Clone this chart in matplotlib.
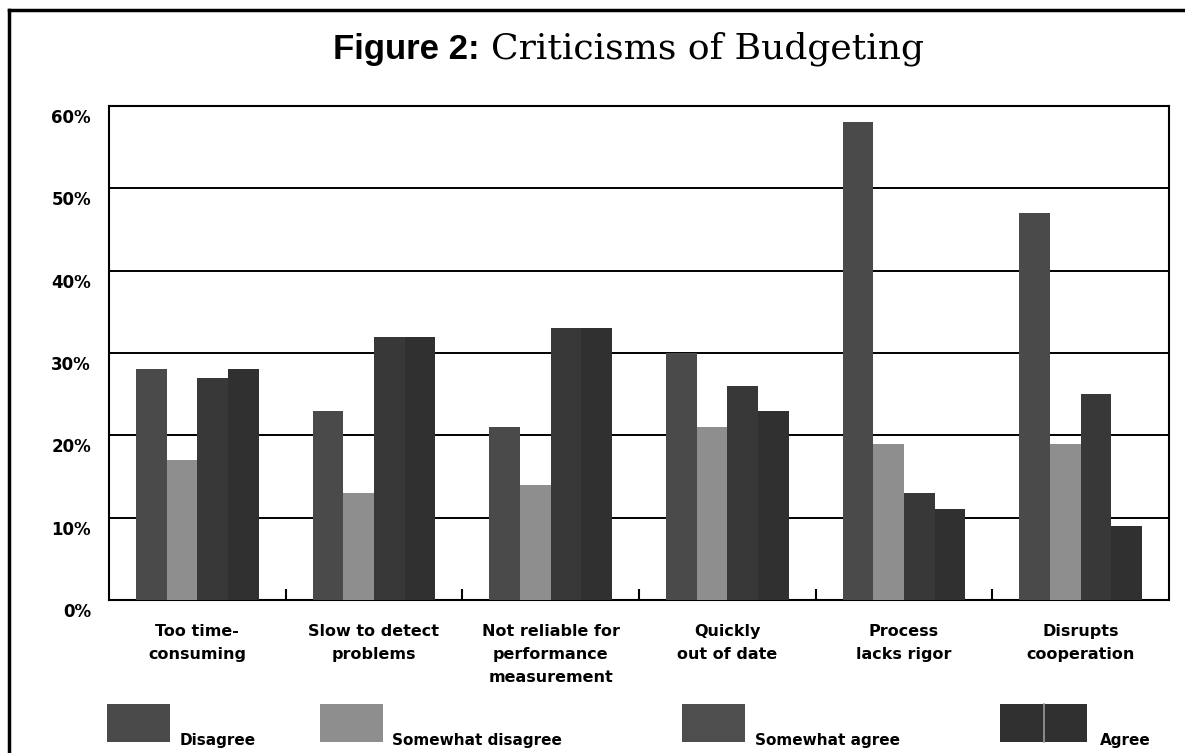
import numpy as np
import matplotlib
matplotlib.use("Agg")
import matplotlib.pyplot as plt
from matplotlib.patches import Rectangle
from matplotlib.lines import Line2D
from matplotlib.transforms import ScaledTranslation

# Survey responses (% of respondents) per criticism
categories = ["Too time-\nconsuming", "Slow to detect\nproblems",
              "Not reliable for\nperformance\nmeasurement", "Quickly\nout of date",
              "Process\nlacks rigor", "Disrupts\ncooperation"]
responses = ["Disagree", "Somewhat disagree", "Somewhat agree", "Agree"]
disagree = [28, 23, 21, 30, 58, 47]
somewhat_disagree = [17, 13, 14, 21, 19, 19]
somewhat_agree = [27, 32, 33, 26, 13, 25]
agree = [28, 32, 33, 23, 11, 9]
y_ticks = [0, 10, 20, 30, 40, 50, 60]
y_tick_labels = ["0%", "10%", "20%", "30%", "40%", "50%", "60%"]

series = [disagree, somewhat_disagree, somewhat_agree, agree]
colors = ["#4a4a4a", "#8e8e8e", "#383838", "#303030"]

W, H = 1185, 753
fig = plt.figure(figsize=(W / 100, H / 100), dpi=100)
fig.patch.set_facecolor("white")


def fx(px):
    return px / W


def fy(py):
    return 1 - py / H


SANS = ["DejaVu Sans"]
TITLE_SANS = ["Liberation Sans", "DejaVu Sans"]

# Plot area
ax_l, ax_r, ax_t, ax_b = 109, 1169, 106, 600
ax = fig.add_axes([fx(ax_l), fy(ax_b), fx(ax_r - ax_l), (ax_b - ax_t) / H])
ax.set_xlim(0, 6)
ax.set_ylim(0, 60)

x = np.arange(len(categories)) + 0.5
w = 0.174
offsets = np.array([-1.5, -0.5, 0.5, 1.5]) * w
for vals, off, c in zip(series, offsets, colors):
    ax.bar(x + off, vals, width=w, color=c, edgecolor="none", zorder=3)

# Horizontal gridlines
ax.set_yticks(y_ticks)
ax.set_yticklabels(y_tick_labels, fontfamily=SANS, fontweight="bold", fontsize=12)
ax.yaxis.grid(True, color="black", linewidth=1.4, zorder=1)
ax.set_axisbelow(True)
ax.tick_params(axis="y", length=0, pad=13)
shift = ScaledTranslation(0, -0.10, fig.dpi_scale_trans)
for lab in ax.get_yticklabels():
    lab.set_transform(lab.get_transform() + shift)

# Short inward ticks separating categories
ax.set_xticks(np.arange(1, 6))
ax.set_xticklabels([])
ax.tick_params(axis="x", direction="in", length=8, width=1.5, color="black")

for s in ax.spines.values():
    s.set_linewidth(1.5)
    s.set_color("black")

# Category labels
for xi, lab in zip(x, categories):
    ax.text(xi, -24 / (ax_b - ax_t), lab, transform=ax.get_xaxis_transform(),
            ha="center", va="top", fontfamily=SANS, fontweight="bold",
            fontsize=11.5, linespacing=1.65)

# Legend row
legend_items = [
    (107, 63, 180, responses[0], colors[0], False),
    (320, 63, 392, responses[1], colors[1], False),
    (682, 63, 755, responses[2], "#4e4e4e", False),
    (1000, 87, 1100, responses[3], colors[3], True),
]
top_px, bot_px = 704, 742
for left, width, tx, lab, c, split in legend_items:
    if split:
        half = width / 2
        for k in range(2):
            fig.patches.append(Rectangle((fx(left + k * half), fy(bot_px)),
                                         fx(half), (bot_px - top_px) / H,
                                         transform=fig.transFigure,
                                         facecolor=c, edgecolor="none"))
        fig.lines.append(Line2D([fx(left + half)] * 2, [fy(bot_px), fy(top_px)],
                                transform=fig.transFigure, color="#9a9a9a",
                                linewidth=1.2))
    else:
        fig.patches.append(Rectangle((fx(left), fy(bot_px)), fx(width),
                                     (bot_px - top_px) / H,
                                     transform=fig.transFigure,
                                     facecolor=c, edgecolor="none"))
    fig.text(fx(tx), fy(745), lab, ha="left", va="baseline",
             fontfamily=SANS, fontweight="bold", fontsize=11)

# Title: bold sans prefix followed by serif text
t1 = fig.text(fx(333), fy(59), "Figure 2:", ha="left", va="baseline",
              fontfamily=TITLE_SANS, fontweight="bold", fontsize=25)
fig.canvas.draw()
bb = t1.get_window_extent(renderer=fig.canvas.get_renderer())
fig.text(fx(bb.x1 + 11), fy(59), "Criticisms of Budgeting", ha="left",
         va="baseline", fontfamily=["DejaVu Serif"], fontsize=26)

# Page frame along top and left edges
fig.lines.append(Line2D([fx(9), 1], [fy(10), fy(10)], transform=fig.transFigure,
                        color="black", linewidth=2.5))
fig.lines.append(Line2D([fx(9), fx(9)], [fy(10), 0], transform=fig.transFigure,
                        color="black", linewidth=2.5))

fig.savefig("out.png", dpi=100, facecolor="white")
